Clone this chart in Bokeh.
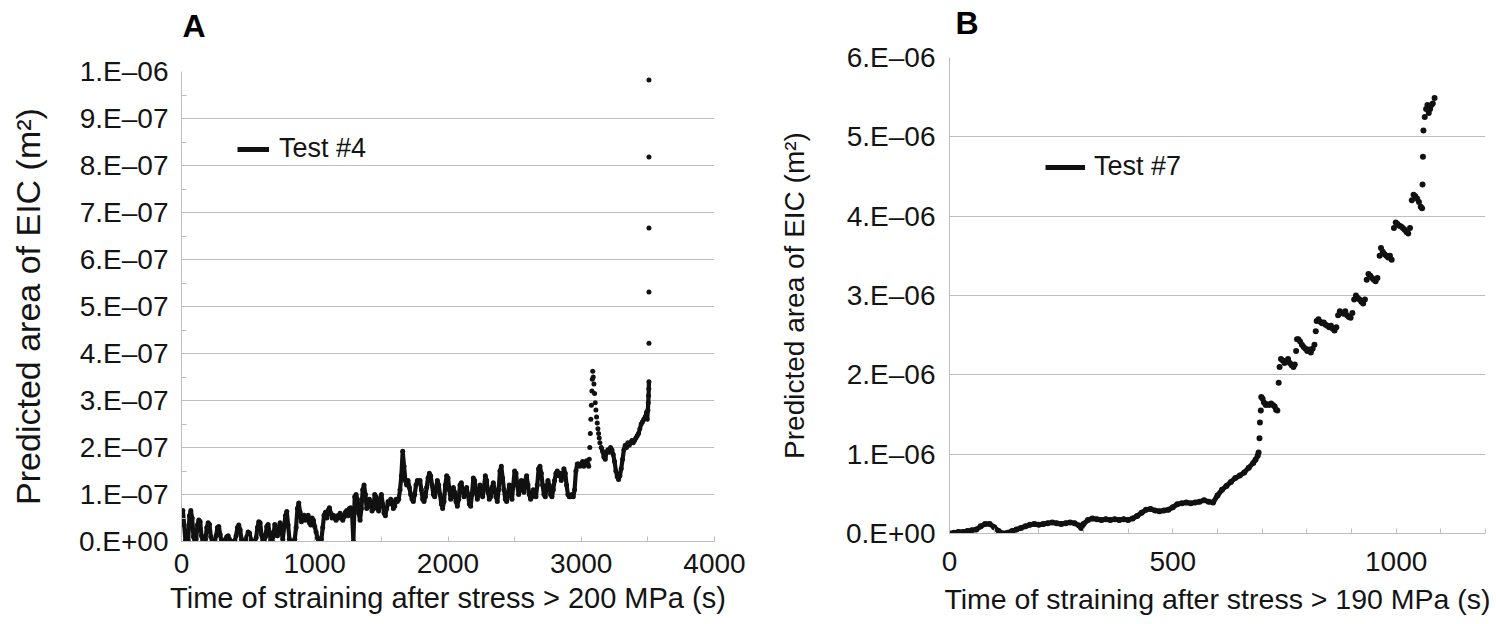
import math
from bokeh.plotting import figure
from bokeh.layouts import row
from bokeh.models import (Range1d, FixedTicker, CustomJSTickFormatter, Legend,
                          LegendItem, Title)
from bokeh.embed import file_html
from bokeh.resources import INLINE

# ---------------- Panel A: Test #4 ----------------
# time after stress > 200 MPa (s)
a_time = [
    0, 10, 20, 30, 40, 50, 60, 70, 80, 90,
    100, 110, 120, 130, 140, 150, 160, 170, 180, 190,
    200, 210, 220, 230, 240, 250, 260, 270, 280, 290,
    300, 310, 320, 330, 340, 350, 360, 370, 380, 390,
    400, 410, 420, 430, 440, 450, 460, 470, 480, 490,
    500, 510, 520, 530, 540, 550, 560, 570, 580, 590,
    600, 610, 620, 630, 640, 650, 660, 670, 680, 690,
    700, 710, 720, 730, 740, 750, 760, 770, 780, 790,
    800, 810, 820, 830, 840, 850, 860, 870, 880, 890,
    900, 910, 920, 930, 940, 950, 960, 970, 980, 990,
    1000, 1010, 1020, 1030, 1040, 1050, 1060, 1070, 1080, 1090,
    1100, 1110, 1120, 1130, 1140, 1150, 1160, 1170, 1180, 1190,
    1200, 1210, 1220, 1230, 1240, 1250, 1260, 1270, 1280, 1290,
    1300, 1310, 1320, 1330, 1340, 1350, 1360, 1370, 1380, 1390,
    1400, 1410, 1420, 1430, 1440, 1450, 1460, 1470, 1480, 1490,
    1500, 1510, 1520, 1530, 1540, 1550, 1560, 1570, 1580, 1590,
    1600, 1610, 1620, 1630, 1640, 1650, 1660, 1670, 1680, 1690,
    1700, 1710, 1720, 1730, 1740, 1750, 1760, 1770, 1780, 1790,
    1800, 1810, 1820, 1830, 1840, 1850, 1860, 1870, 1880, 1890,
    1900, 1910, 1920, 1930, 1940, 1950, 1960, 1970, 1980, 1990,
    2000, 2010, 2020, 2030, 2040, 2050, 2060, 2070, 2080, 2090,
    2100, 2110, 2120, 2130, 2140, 2150, 2160, 2170, 2180, 2190,
    2200, 2210, 2220, 2230, 2240, 2250, 2260, 2270, 2280, 2290,
    2300, 2310, 2320, 2330, 2340, 2350, 2360, 2370, 2380, 2390,
    2400, 2410, 2420, 2430, 2440, 2450, 2460, 2470, 2480, 2490,
    2500, 2510, 2520, 2530, 2540, 2550, 2560, 2570, 2580, 2590,
    2600, 2610, 2620, 2630, 2640, 2650, 2660, 2670, 2680, 2690,
    2700, 2710, 2720, 2730, 2740, 2750, 2760, 2770, 2780, 2790,
    2800, 2810, 2820, 2830, 2840, 2850, 2860, 2870, 2880, 2890,
    2900, 2910, 2920, 2930, 2940, 2950, 2960, 2970, 2980, 2990,
    3000, 3010, 3020, 3030, 3040, 3050, 3056,
    3060, 3064, 3068, 3072, 3076, 3080, 3083, 3086,
    3090, 3095, 3100, 3105, 3110, 3115, 3120, 3125, 3130, 3135, 3140,
    3150, 3160, 3170, 3180, 3190, 3200, 3210, 3220, 3230, 3240,
    3250, 3260, 3270, 3280, 3290, 3300, 3310, 3320, 3330, 3340,
    3350, 3360, 3370, 3380, 3390, 3400, 3410, 3420, 3430, 3440,
    3450, 3460, 3470, 3480, 3490, 3495, 3500, 3503, 3505, 3507, 3508,
    3508, 3508, 3508, 3508, 3508,
]
# predicted EIC area, in units of 1e-7 m^2
a_area_e7 = [
    0.62, 0.66, 0.35, 0.02, 0.12, 0.02, 0.55, 0.66, 0.5, 0.1,
    0.0, 0.05, 0.35, 0.46, 0.42, 0.12, 0.0, 0.0, 0.05, 0.3,
    0.4, 0.36, 0.1, 0.0, 0.0, 0.02, 0.12, 0.3, 0.32, 0.15,
    0.0, 0.0, 0.0, 0.05, 0.1, 0.12, 0.05, 0.0, 0.0, 0.0,
    0.02, 0.12, 0.3, 0.35, 0.25, 0.05, 0.0, 0.0, 0.02, 0.1,
    0.2, 0.18, 0.05, 0.0, 0.0, 0.0, 0.08, 0.3, 0.42, 0.4,
    0.15, 0.0, 0.0, 0.1, 0.32, 0.36, 0.2, 0.02, 0.0, 0.12,
    0.36, 0.3, 0.12, 0.3, 0.4, 0.22, 0.05, 0.3, 0.55, 0.64,
    0.35, 0.05, 0.0, 0.0, 0.0, 0.05, 0.3, 0.7, 0.82, 0.62,
    0.42, 0.5, 0.56, 0.45, 0.5, 0.56, 0.4, 0.35, 0.5, 0.45,
    0.32, 0.2, 0.08, 0.0, 0.0, 0.05, 0.3, 0.56, 0.62, 0.5,
    0.66, 0.72, 0.6, 0.5, 0.56, 0.5, 0.45, 0.55, 0.5, 0.6,
    0.55, 0.45, 0.52, 0.62, 0.66, 0.55, 0.7, 0.72, 0.6, 0.0,
    0.95, 1.0, 0.9, 0.6, 0.45, 0.7, 1.1, 1.2, 1.0, 0.7,
    0.75, 0.9, 0.8, 0.65, 0.7, 1.0, 0.95, 0.7, 0.65, 0.9,
    1.0, 0.8, 0.6, 0.55, 0.7, 0.85, 0.8, 0.9, 0.85, 0.7,
    0.75, 0.9, 0.85, 0.9, 1.1, 1.4, 1.92, 1.6, 1.3, 1.2,
    1.3, 1.15, 1.0, 0.9, 0.85, 1.0, 1.2, 1.3, 1.25, 1.3,
    1.1, 0.9, 0.85, 0.95, 1.15, 1.35, 1.45, 1.4, 1.2, 1.0,
    0.95, 1.1, 1.3, 1.2, 1.0, 0.8, 0.7, 0.85, 1.2, 1.4,
    1.35, 1.1, 0.9, 0.95, 1.15, 1.05, 0.85, 0.75, 0.9, 1.2,
    1.25, 1.1, 0.95, 1.0, 1.15, 1.0, 0.8, 0.75, 1.0, 1.35,
    1.3, 1.05, 0.9, 1.0, 1.2, 1.1, 0.95, 1.15, 1.4, 1.3,
    1.05, 0.9, 0.95, 1.15, 1.25, 1.1, 0.95, 0.85, 1.1, 1.5,
    1.6, 1.35, 1.1, 0.9, 0.85, 1.0, 1.2, 1.1, 0.9, 1.2,
    1.5, 1.45, 1.2, 1.0, 1.1, 1.3, 1.2, 1.05, 1.3, 1.4,
    1.2, 1.0, 0.9, 0.95, 1.1, 1.05, 0.95, 1.2, 1.55, 1.6,
    1.45, 1.2, 1.0, 0.95, 1.15, 1.3, 1.2, 1.0, 0.95, 1.1,
    1.3, 1.45, 1.5, 1.4, 1.45, 1.3, 1.4, 1.55, 1.45, 1.2,
    1.0, 0.95, 0.95, 1.0, 0.95, 1.1, 1.5, 1.65, 1.65, 1.6,
    1.65, 1.7, 1.6, 1.65, 1.72, 1.65, 1.6,
    1.75, 2.0, 2.3, 2.6, 2.9, 3.2, 3.45, 3.62,
    3.5, 3.35, 3.15, 2.95, 2.8, 2.65, 2.52, 2.4, 2.3, 2.2, 2.1,
    2.0, 1.92, 1.8, 1.75, 1.9, 1.95, 1.9, 2.0, 1.95, 1.85,
    1.7, 1.5, 1.38, 1.32, 1.4, 1.55, 1.75, 1.95, 2.05, 2.0,
    2.1, 2.05, 2.1, 2.15, 2.1, 2.15, 2.2, 2.25, 2.3, 2.4,
    2.5, 2.55, 2.6, 2.65, 2.75, 2.6, 2.8, 2.95, 3.1, 3.25, 3.4,
    4.22, 5.31, 6.67, 8.18, 9.82,
]
a_label = "Test #4"
a_panel = "A"
a_x_ticks = [0, 1000, 2000, 3000, 4000]
a_x_minor = [500, 1500, 2500, 3500]
a_y_ticks = [0.0, 1e-07, 2e-07, 3e-07, 4e-07, 5e-07, 6e-07, 7e-07, 8e-07, 9e-07, 1e-06]
a_y_minor = [0.5e-07, 1.5e-07, 2.5e-07, 3.5e-07, 4.5e-07, 5.5e-07, 6.5e-07, 7.5e-07, 8.5e-07, 9.5e-07]
a_y_labels = ["0.E+00", "1.E\u201307", "2.E\u201307", "3.E\u201307", "4.E\u201307", "5.E\u201307",
              "6.E\u201307", "7.E\u201307", "8.E\u201307", "9.E\u201307", "1.E\u201306"]
a_x_title = "Time of straining after stress > 200 MPa (s)"

# ---------------- Panel B: Test #7 ----------------
b_time = [
    0, 10, 20, 30, 40, 50, 60, 70, 80, 90,
    100, 110, 120, 130, 140, 150, 160, 170, 180, 190,
    200, 210, 220, 230, 240, 250, 260, 270, 280, 290,
    295, 300, 310, 320, 330, 340, 350, 360, 370, 380, 390,
    400, 410, 420, 430, 440, 450, 460, 470, 480, 490,
    500, 510, 520, 530, 540, 550, 560, 570, 580, 590,
    600, 610, 620, 630, 640, 650, 660, 670, 680, 685, 690, 692,
    694, 695, 697, 698,
    701, 704, 708, 712, 716, 720, 724, 728, 731, 734,
    737, 739,
    742, 746, 750, 754, 758, 762, 766, 770, 773,
    776, 778,
    781, 785, 789, 793, 797, 801, 805, 809, 813, 817,
    820, 822,
    826, 830, 834, 838, 842, 846, 850, 854, 858, 862, 866,
    870, 874, 878, 882, 886, 890, 894, 898, 902,
    906, 910, 914, 918, 922, 926, 930,
    934, 938, 942, 946, 950, 954, 958,
    963, 966, 970, 974, 978, 982, 986, 990,
    995, 999, 1003, 1007, 1011, 1015, 1019, 1023, 1027, 1031,
    1035, 1039, 1043, 1047, 1051, 1055, 1058,
    1059, 1060, 1061,
    1064, 1067, 1070, 1073, 1076, 1079, 1082, 1086,
]
# predicted EIC area, in units of 1e-6 m^2
b_area_e6 = [
    0.0, 0.01, 0.02, 0.02, 0.03, 0.04, 0.05, 0.09, 0.12, 0.12,
    0.08, 0.03, 0.0, 0.01, 0.03, 0.05, 0.07, 0.09, 0.11, 0.12,
    0.11, 0.12, 0.13, 0.14, 0.13, 0.12, 0.13, 0.14, 0.13, 0.1,
    0.07, 0.12, 0.17, 0.19, 0.18, 0.17, 0.18, 0.17, 0.18, 0.17, 0.18,
    0.17, 0.19, 0.22, 0.26, 0.3, 0.31, 0.29, 0.28, 0.29, 0.3,
    0.33, 0.37, 0.38, 0.39, 0.38, 0.39, 0.4, 0.42, 0.4, 0.39,
    0.48, 0.55, 0.6, 0.65, 0.7, 0.73, 0.77, 0.83, 0.89, 0.93, 0.98, 1.02,
    1.2, 1.4, 1.55, 1.72,
    1.7, 1.65, 1.62, 1.63, 1.62, 1.64, 1.62, 1.6, 1.56, 1.55,
    1.9, 2.1,
    2.2, 2.18, 2.15, 2.17, 2.2, 2.15, 2.12, 2.1, 2.13,
    2.3, 2.45,
    2.45, 2.42, 2.38, 2.35, 2.33, 2.3, 2.32, 2.28, 2.33, 2.38,
    2.55, 2.68,
    2.7, 2.67, 2.65, 2.66, 2.63, 2.62, 2.6, 2.62, 2.58, 2.56, 2.6,
    2.75, 2.8, 2.78, 2.77, 2.8, 2.75, 2.73, 2.72, 2.78,
    2.95, 3.0, 2.97, 2.95, 2.92, 2.9, 2.95,
    3.2, 3.27, 3.25, 3.22, 3.2, 3.18, 3.22,
    3.5, 3.6, 3.55, 3.52, 3.5, 3.48, 3.5, 3.45,
    3.85, 3.92, 3.9, 3.88, 3.87, 3.85, 3.83, 3.8, 3.78, 3.85,
    4.2, 4.27, 4.25, 4.22, 4.18, 4.12, 4.1,
    4.4, 4.75, 5.08,
    5.25, 5.35, 5.4, 5.3, 5.35, 5.4, 5.42, 5.49,
]
b_label = "Test #7"
b_panel = "B"
b_x_ticks = [0, 500, 1000]
b_x_minor = [100, 200, 300, 400, 600, 700, 800, 900, 1100, 1200]
b_y_ticks = [0.0, 1e-06, 2e-06, 3e-06, 4e-06, 5e-06, 6e-06]
b_y_labels = ["0.E+00", "1.E\u201306", "2.E\u201306", "3.E\u201306", "4.E\u201306", "5.E\u201306", "6.E\u201306"]
b_x_title = "Time of straining after stress > 190 MPa (s)"

y_title = "Predicted area of EIC (m\u00b2)"

FONT = "Liberation Sans"
GRID = "#bdbdbd"
INK = "#111111"
TXT = "#141414"
NAN = float("nan")

FMT_CODE = """
let best = 0;
for (let i = 1; i < tick_vals.length; i++) {
  if (Math.abs(tick_vals[i] - tick) < Math.abs(tick_vals[best] - tick)) best = i;
}
return tick_texts[best];
"""


def make_panel(width, height, borders, xr, yr, x_ticks, x_minor, y_ticks, y_minor, y_labels,
               x_title, x_title_size, y_title_size,
               x_lab_standoff, x_title_standoff, y_lab_standoff, y_title_standoff):
    left, right, top, bottom = borders
    p = figure(width=width, height=height, x_range=Range1d(*xr), y_range=Range1d(*yr),
               output_backend="svg", toolbar_location=None,
               min_border_left=left, min_border_right=right,
               min_border_top=top, min_border_bottom=bottom)
    try:
        p.frame_align = False   # keep each panel's own frame position inside the row
    except AttributeError:
        pass
    p.outline_line_color = None
    p.background_fill_color = "white"
    p.border_fill_color = "white"

    xt = FixedTicker(ticks=x_ticks, minor_ticks=x_minor)
    yt = FixedTicker(ticks=y_ticks, minor_ticks=y_minor)
    p.xaxis.ticker = xt
    p.yaxis.ticker = yt
    p.xgrid.visible = False
    p.ygrid.ticker = yt
    p.ygrid.grid_line_color = GRID
    p.ygrid.grid_line_width = 1
    p.yaxis.formatter = CustomJSTickFormatter(
        args=dict(tick_vals=y_ticks, tick_texts=y_labels), code=FMT_CODE)

    for ax in (p.xaxis[0], p.yaxis[0]):
        ax.axis_line_color = GRID
        ax.axis_line_width = 1
        ax.major_tick_line_color = GRID
        ax.minor_tick_line_color = GRID
        ax.major_tick_out = 0
        ax.minor_tick_out = 0
        ax.major_label_text_font = FONT
        ax.major_label_text_font_size = "28px"
        ax.major_label_text_color = TXT
        ax.axis_label_text_font = FONT
        ax.axis_label_text_font_style = "normal"
        ax.axis_label_text_color = TXT

    p.xaxis.axis_label_text_font_size = x_title_size
    p.yaxis.axis_label_text_font_size = y_title_size
    p.xaxis.major_tick_in = 5
    p.xaxis.minor_tick_in = 5
    p.yaxis.major_tick_in = 0
    p.yaxis.minor_tick_in = 5
    p.xaxis.major_label_standoff = x_lab_standoff
    p.xaxis.axis_label_standoff = x_title_standoff
    p.yaxis.major_label_standoff = y_lab_standoff
    p.yaxis.axis_label_standoff = y_title_standoff
    p.xaxis.axis_label = x_title
    p.yaxis.axis_label = y_title
    return p


def add_legend(p, label, loc, glyph_w, standoff):
    key = p.line([0, 0], [NAN, NAN], line_color=INK, line_width=5)
    leg = Legend(items=[LegendItem(label=label, renderers=[key])], location=loc,
                 padding=0, margin=0, spacing=0, border_line_color=None,
                 background_fill_alpha=0, glyph_width=glyph_w, glyph_height=30,
                 label_height=30, label_standoff=standoff,
                 label_text_font=FONT, label_text_font_size="27px", label_text_color=TXT)
    p.add_layout(leg)


def add_panel_letter(p, letter, offset, gap):
    spacer = Title(text="\u00a0", text_font_size="4px", standoff=gap)
    p.add_layout(spacer, "above")
    p.add_layout(Title(text=letter, align="left", offset=offset, standoff=0,
                       text_font=FONT, text_font_style="bold", text_font_size="32px",
                       text_color="#000000"), "above")


# ---- Panel A (page x 0..770) ----
pa = make_panel(770, 624, (181, 56, 71, 83), (0, 4000), (0, 1e-06),
                a_x_ticks, a_x_minor, a_y_ticks, a_y_minor, a_y_labels,
                a_x_title, "29px", "34px", 12, 6, 13, 29)
a_area = [v * 1e-7 for v in a_area_e7]
a_line = [v * 1e-7 if (t < 3058 or (t > 3145 and v < 3.5)) else NAN
          for t, v in zip(a_time, a_area_e7)]
pa.line(a_time, a_line, line_color=INK, line_width=4.2)
pa.scatter(a_time, a_area, size=5, fill_color=INK, line_color=None)
add_legend(pa, a_label, (56, 377), 32, 10)
add_panel_letter(pa, a_panel, 1, 21)

# ---- Panel B (page x 770..1496) ----
pb = make_panel(726, 624, (179, 11, 57, 91), (0, 1200), (0, 6e-06),
                b_x_ticks, b_x_minor, b_y_ticks, [], b_y_labels,
                b_x_title, "28.5px", "28px", 18, 9, 14, 33)
pb.yaxis.minor_tick_in = 0
b_area = [v * 1e-6 for v in b_area_e6]
b_line = [v * 1e-6 if t <= 692 else NAN for t, v in zip(b_time, b_area_e6)]
pb.line(b_time, b_line, line_color=INK, line_width=5)
pb.scatter(b_time, b_area, size=6, fill_color=INK, line_color=None)
add_legend(pb, b_label, (96, 351), 40, 9)
add_panel_letter(pb, b_panel, 6, 10)

layout = row(pa, pb)
open("out.html", "w").write(file_html(layout, INLINE))
